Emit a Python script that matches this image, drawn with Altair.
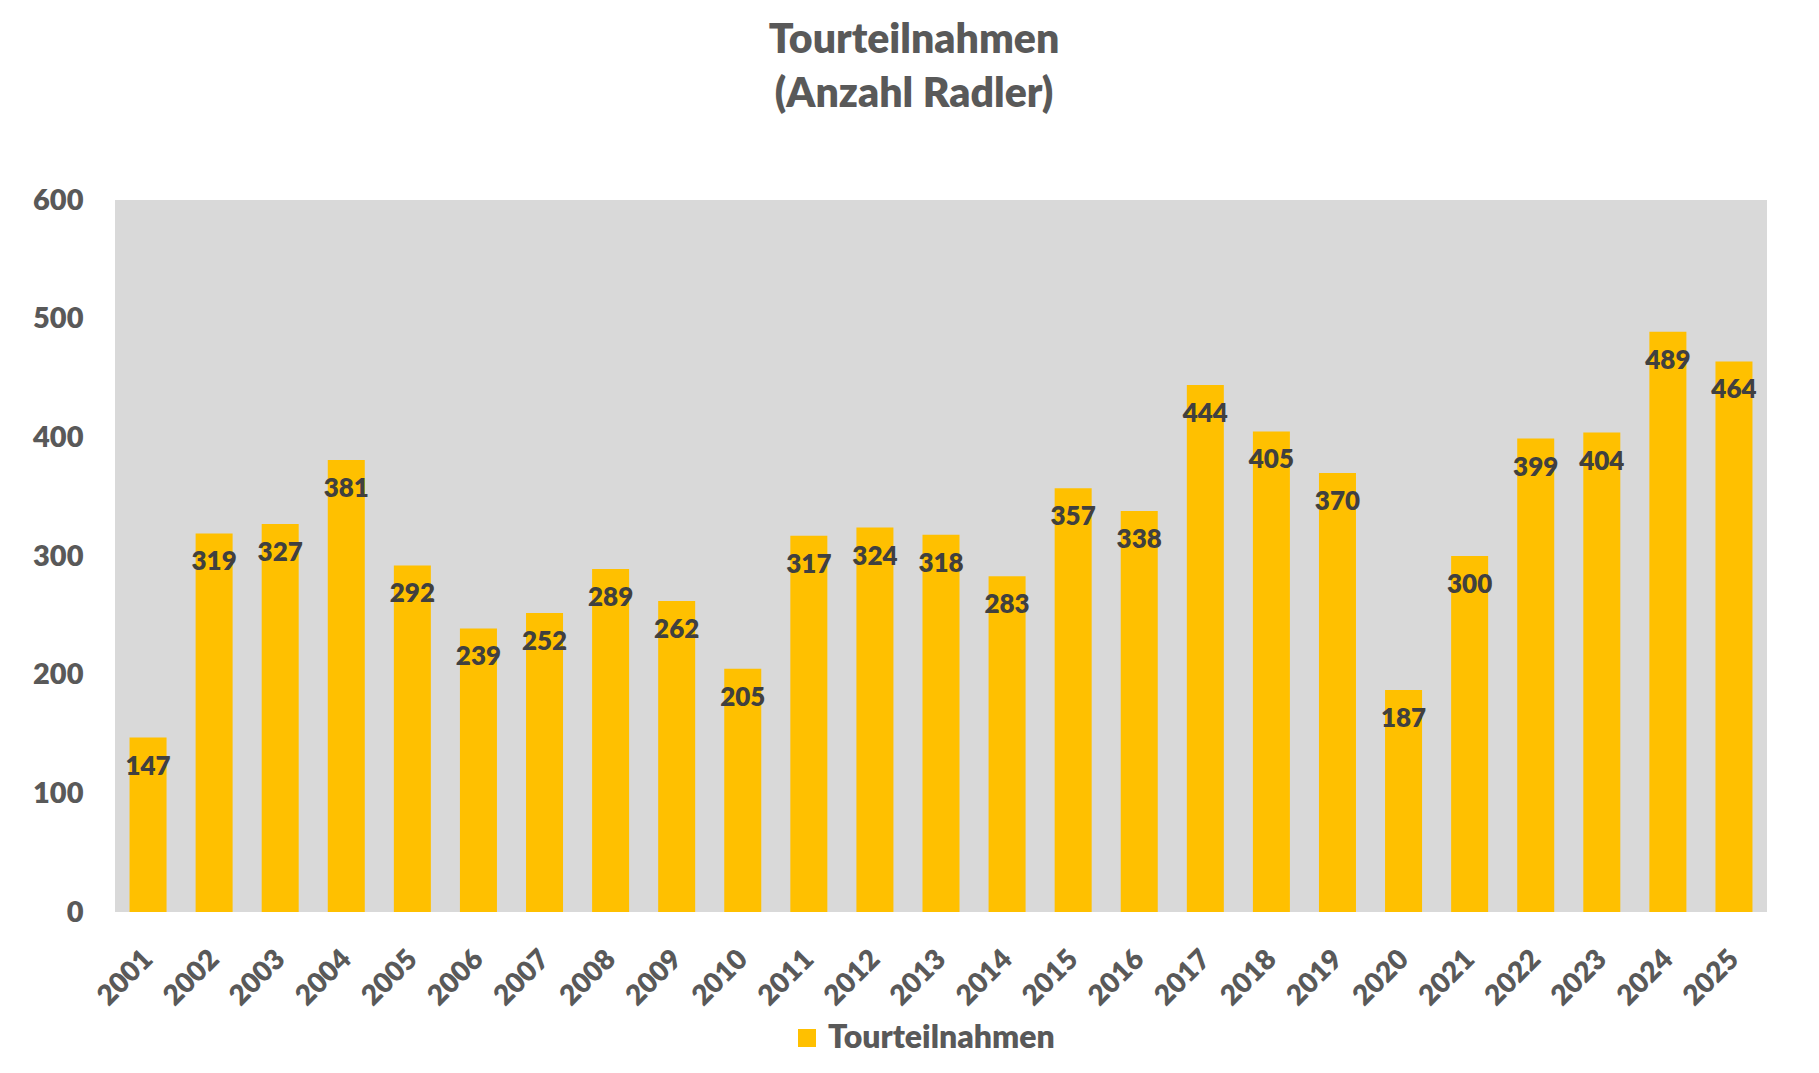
import altair as alt
import pandas as pd

years = [str(y) for y in range(2001, 2026)]
values = [147, 319, 327, 381, 292, 239, 252, 289, 262, 205, 317, 324, 318,
          283, 357, 338, 444, 405, 370, 187, 300, 399, 404, 489, 464]
series_name = "Tourteilnahmen"
y_ticks = [0, 100, 200, 300, 400, 500, 600]

df = pd.DataFrame({"Jahr": years, "Wert": values, "Serie": [series_name] * len(years)})

FONT = "Lato"
GREY = "#595959"
W = 800

base = alt.Chart(df)

bars = base.mark_bar(color="#FFC000").encode(
    x=alt.X("Jahr:N", sort=years, title=None,
            scale=alt.Scale(paddingInner=0.44, paddingOuter=0.22),
            axis=alt.Axis(labelAngle=-45, labelFontSize=28, labelFont=FONT,
                          labelFontWeight=W, labelColor=GREY, labelPadding=33,
                          labelOffset=-9,
                          ticks=False, domain=False, grid=False)),
    y=alt.Y("Wert:Q", title=None,
            scale=alt.Scale(domain=[0, 600], nice=False),
            axis=alt.Axis(values=y_ticks, labelFontSize=29, labelFont=FONT,
                          labelFontWeight=W, labelColor=GREY, labelPadding=32,
                          ticks=False, domain=False, grid=False)),
    color=alt.Color("Serie:N", scale=alt.Scale(range=["#FFC000"]),
                    legend=alt.Legend(title=None, orient="none", legendX=676, legendY=822,
                                      symbolType="square", symbolSize=324,
                                      symbolStrokeWidth=0,
                                      labelFontSize=32, labelFont=FONT,
                                      labelFontWeight=W, labelColor=GREY,
                                      labelOffset=5, labelLimit=0)),
)

labels = base.mark_text(font=FONT, fontSize=26, fontWeight=W, color="#404040",
                        baseline="middle", dy=29).encode(
    x=alt.X("Jahr:N", sort=years),
    y=alt.Y("Wert:Q"),
    text=alt.Text("Wert:Q"),
)

chart = (bars + labels).properties(
    width=1652,
    height=712,
    autosize=alt.AutoSizeParams(type="none"),
    padding={"left": 107, "top": 192, "right": 30, "bottom": 158},
    title=alt.TitleParams(text=["Tourteilnahmen", "(Anzahl Radler)"],
                          font=FONT, fontSize=41, fontWeight=W, color=GREY,
                          anchor="middle", frame="group", dx=-27, offset=70,
                          lineHeight=54),
).configure(background="white").configure_view(fill="#D9D9D9", stroke=None)

chart.save("out.html", embed_options={"renderer": "svg", "actions": False})
